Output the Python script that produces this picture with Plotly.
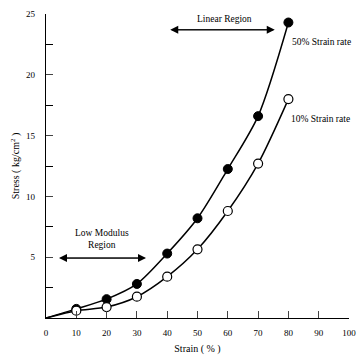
import plotly.graph_objects as go

strain = [10, 20, 30, 40, 50, 60, 70, 80]
stress_50 = [0.75, 1.55, 2.8, 5.3, 8.2, 12.25, 16.6, 24.3]
stress_10 = [0.6, 0.9, 1.75, 3.4, 5.65, 8.8, 12.7, 18.0]
x_ticks = [0, 10, 20, 30, 40, 50, 60, 70, 80, 90, 100]
y_ticks = [5, 10, 15, 20, 25]

FONT = "Liberation Serif"

fig = go.Figure()
for vals in (stress_50, stress_10):
    fig.add_trace(go.Scatter(x=[0] + strain, y=[0] + vals, mode="lines",
                             line=dict(color="black", width=1.5, shape="spline", smoothing=0.8),
                             hoverinfo="skip", showlegend=False))
fig.add_trace(go.Scatter(x=strain, y=stress_50, mode="markers",
                         marker=dict(color="black", size=9, line=dict(color="black", width=1)),
                         showlegend=False))
fig.add_trace(go.Scatter(x=strain, y=stress_10, mode="markers",
                         marker=dict(color="white", size=9, line=dict(color="black", width=1.2)),
                         showlegend=False))

def dbl_arrow(x0, x1, y):
    for a, b in ((x0, x1), (x1, x0)):
        fig.add_annotation(x=b, y=y, ax=a, ay=y, xref="x", yref="y", axref="x", ayref="y",
                           text="", showarrow=True, arrowhead=2, arrowsize=1.6,
                           arrowwidth=1, arrowcolor="black")

dbl_arrow(41, 75.5, 23.7)
dbl_arrow(4.3, 33, 4.93)

txt = dict(font=dict(family=FONT, size=9.5, color="black"), showarrow=False, xref="x", yref="y")
fig.add_annotation(x=59, y=24.6, text="Linear Region", **txt)
fig.add_annotation(x=91, y=22.7, text="50% Strain rate", **txt)
fig.add_annotation(x=90.5, y=16.4, text="10% Strain rate", **txt)
fig.add_annotation(x=18.5, y=6.5, text="Low Modulus<br>Region", **txt)

fig.update_layout(
    width=364, height=359,
    margin=dict(l=46, r=15, t=14, b=41),
    plot_bgcolor="white", paper_bgcolor="white",
    font=dict(family=FONT, size=9, color="black"),
    xaxis=dict(range=[0, 100], tickvals=x_ticks, ticks="inside", ticklen=7,
               ticklabelstandoff=6, automargin=False,
               showline=True, linecolor="black", linewidth=1.2, showgrid=False,
               zeroline=False, title=dict(text="Strain ( % )", font=dict(size=10), standoff=8)),
    yaxis=dict(range=[0, 25], tickvals=y_ticks, ticks="inside", ticklen=7,
               ticklabelstandoff=8, automargin=False,
               minor=dict(tickvals=[2.5, 7.5, 12.5, 17.5, 22.5], ticks="inside", ticklen=7,
                          tickcolor="black", showgrid=False),
               showline=True, linecolor="black", linewidth=1.2, showgrid=False,
               zeroline=False, title=dict(text="Stress ( kg/cm<sup>2</sup> )", font=dict(size=10), standoff=4)),
)
fig.write_html("out.html", post_script="document.body.style.margin='0';",
               config={"displayModeBar": False})
